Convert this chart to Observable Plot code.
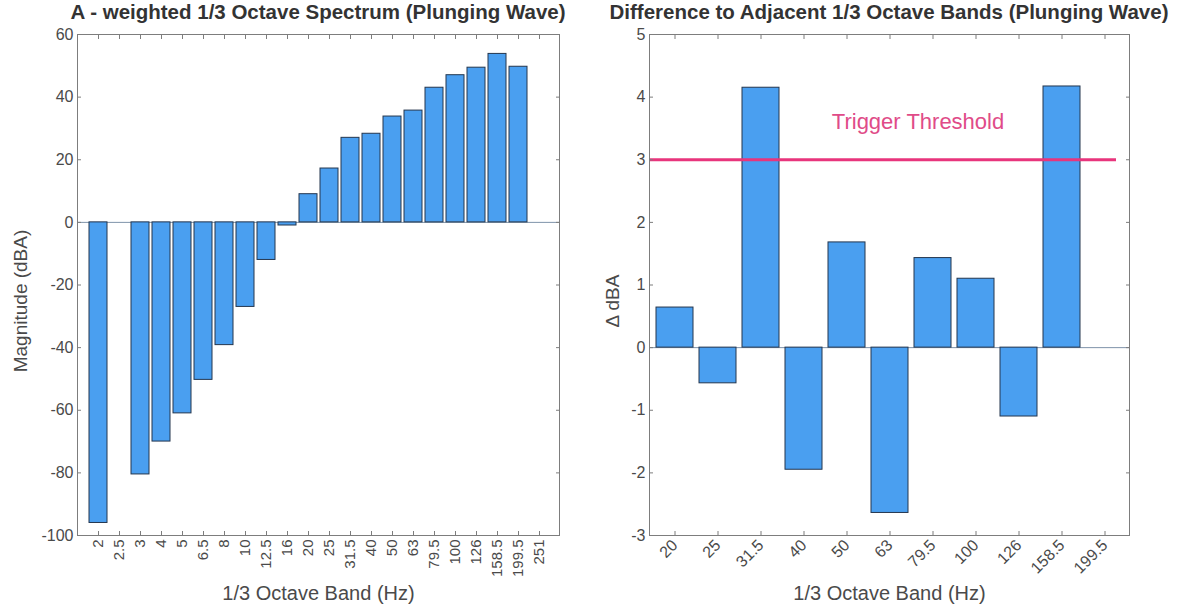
<!DOCTYPE html>
<html><head><meta charset="utf-8">
<script src="https://cdn.jsdelivr.net/npm/d3@7"></script>
<script src="https://cdn.jsdelivr.net/npm/@observablehq/plot@0.6"></script>
<style>
body{margin:0;background:#fff;}
#wrap{position:relative;width:1178px;height:612px;overflow:hidden;font-family:"Liberation Sans",Arial,sans-serif;}
.panel{position:absolute;top:0;}
.title{position:absolute;top:0px;font-weight:bold;font-size:20.5px;color:#333;text-align:center;white-space:nowrap;}
</style></head><body><div id="wrap"></div>
<script>
// ---- data ----
const bandsA = ["2","2.5","3","4","5","6.5","8","10","12.5","16","20","25","31.5","40","50","63","79.5","100","126","158.5","199.5","251"];
const magnitudeA = [-96,null,-80.5,-70,-61,-50.3,-39.2,-27,-12,-1,9,17.2,27,28.3,33.8,35.7,43,47,49.4,53.8,49.7,null];
const yTicksA = [-100,-80,-60,-40,-20,0,20,40,60];

const bandsB = ["20","25","31.5","40","50","63","79.5","100","126","158.5","199.5"];
const deltaB = [0.64,-0.57,4.15,-1.95,1.68,-2.64,1.43,1.1,-1.1,4.17,null];
const yTicksB = [-3,-2,-1,0,1,2,3,4,5];
const threshold = 3;
const thresholdLabel = "Trigger Threshold";

const titleA = "A - weighted 1/3 Octave Spectrum (Plunging Wave)";
const titleB = "Difference to Adjacent 1/3 Octave Bands (Plunging Wave)";
const xLabel = "1/3 Octave Band (Hz)";
const yLabelA = "Magnitude (dBA)";
const yLabelB = "\u0394 dBA";

const dataA = bandsA.map((b,i)=>({band:b,value:magnitudeA[i]})).filter(d=>d.value!=null);
const dataB = bandsB.map((b,i)=>({band:b,value:deltaB[i]})).filter(d=>d.value!=null);

const FONT = "Liberation Sans, Arial, sans-serif";
const BAR_FILL = "#4a9ff0", BAR_STROKE = "#24364e", FRAME = "#7d7d7d", TXT = "#4a4a4a";
const fmt = d => String(d);

function panel({bands, data, yDomain, yTicks, width, ml, mr, yLabel, yLabelDx, xRotate, xPad, xFont, extra}) {
  return Plot.plot({
    width, height: 612,
    marginLeft: ml, marginRight: mr, marginTop: 34, marginBottom: 77,
    style: {fontFamily: FONT, background: "transparent", color: TXT, overflow: "visible"},
    x: {type: "band", domain: bands, padding: 0.15, label: null},
    y: {domain: yDomain, label: null},
    marks: [
      Plot.ruleY([0], {stroke: "#7f93aa", strokeWidth: 1}),
      Plot.barY(data, {x: "band", y: "value", fill: BAR_FILL, stroke: BAR_STROKE, strokeWidth: 1}),
      ...(extra || []),
      Plot.frame({stroke: FRAME, strokeWidth: 1}),
      Plot.axisY(yTicks, {anchor: "left", tickSize: 0, tickPadding: 4, tickFormat: fmt, fontSize: 16, fill: TXT, label: null}),
      Plot.axisY(yTicks, {anchor: "left", tickSize: -4, text: null, stroke: FRAME, label: null}),
      Plot.axisY(yTicks, {anchor: "right", tickSize: -4, text: null, stroke: FRAME, label: null}),
      Plot.axisX({anchor: "bottom", tickSize: 0, tickRotate: xRotate, tickPadding: xPad, fontSize: xFont, fill: TXT, label: null}),
      Plot.axisX({anchor: "bottom", tickSize: -4, text: null, stroke: FRAME, label: null}),
      Plot.axisX({anchor: "top", tickSize: -4, text: null, stroke: FRAME, label: null}),
      Plot.text([yLabel], {frameAnchor: "left", textAnchor: "middle", rotate: -90, dx: yLabelDx, dy: 16, fontSize: 19, fill: TXT}),
      Plot.text([xLabel], {frameAnchor: "bottom", textAnchor: "middle", dy: 64, fontSize: 20, fill: TXT})
    ]
  });
}

const chartA = panel({bands: bandsA, data: dataA, yDomain: [-100, 60], yTicks: yTicksA, width: 580, ml: 77, mr: 21,
  yLabel: yLabelA, yLabelDx: -57, xRotate: -90, xPad: 4, xFont: 15});

const chartB = panel({bands: bandsB, data: dataB, yDomain: [-3, 5], yTicks: yTicksB, width: 598, ml: 69, mr: 49,
  yLabel: yLabelB, yLabelDx: -37, xRotate: -45, xPad: 7, xFont: 16,
  extra: [
    Plot.ruleY([threshold], {stroke: "#e8357c", strokeWidth: 3, insetRight: 13}),
    Plot.text([thresholdLabel], {x: () => "79.5", y: () => 3.6, dx: -15, fontSize: 22, fill: "#e04b88"})
  ]});

const wrap = document.getElementById("wrap");
const pa = document.createElement("div"); pa.className = "panel"; pa.style.left = "0px"; pa.appendChild(chartA); wrap.appendChild(pa);
const pb = document.createElement("div"); pb.className = "panel"; pb.style.left = "580px"; pb.appendChild(chartB); wrap.appendChild(pb);
const ta = document.createElement("div"); ta.className = "title"; ta.style.left = "0px"; ta.style.width = "636px"; ta.textContent = titleA; wrap.appendChild(ta);
const tb = document.createElement("div"); tb.className = "title"; tb.style.left = "580px"; tb.style.width = "618px"; tb.textContent = titleB; wrap.appendChild(tb);
</script></body></html>
